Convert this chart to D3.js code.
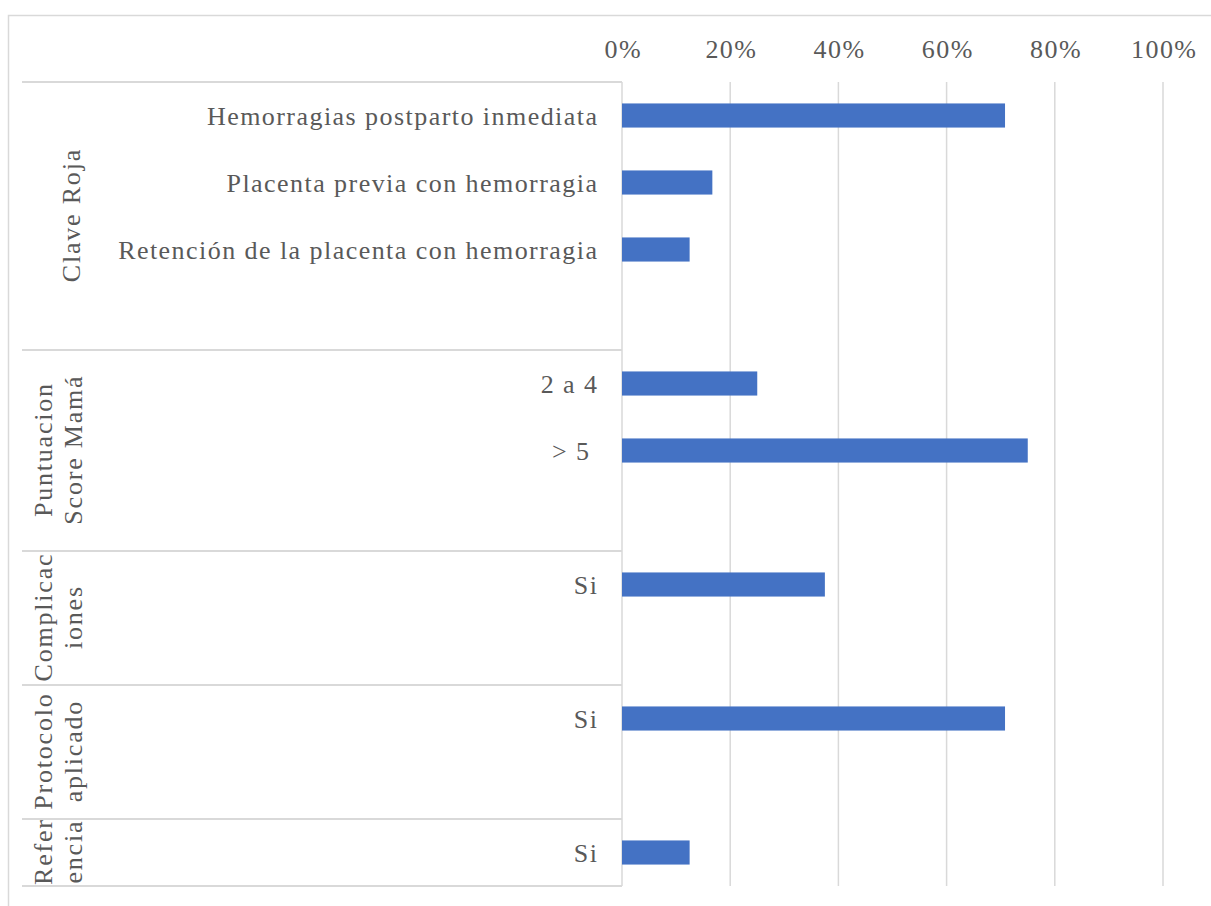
<!DOCTYPE html>
<html>
<head>
<meta charset="utf-8">
<script src="https://cdn.jsdelivr.net/npm/d3@7"></script>
<style>
  html, body { margin: 0; padding: 0; background: #ffffff; }
  svg { display: block; }
  text { font-family: "Liberation Serif", "Times New Roman", serif; fill: #595959; }
</style>
</head>
<body>
<svg id="chart" width="1211" height="906"></svg>
<script>
// ---- data ----
const categories = [
  "Hemorragias postparto inmediata",
  "Placenta previa con hemorragia",
  "Retención de la placenta con hemorragia",
  "",
  "2 a 4",
  "> 5 ",
  "",
  "Si",
  "",
  "Si",
  "",
  "Si"
];
const values = [0.708, 0.167, 0.125, null, 0.25, 0.75, null, 0.375, null, 0.708, null, 0.125];
const groupLabels = [
  ["Clave Roja"],
  ["Puntuacion", "Score Mamá"],
  ["Complicac", "iones"],
  ["Protocolo", "aplicado"],
  ["Refer", "encia"]
];
const groupSizes = [4, 3, 2, 2, 1];
const xTicks = [0, 0.2, 0.4, 0.6, 0.8, 1.0];

// ---- layout ----
const svg = d3.select("#chart");
const W = 1211, H = 906;
const plot = { left: 622, right: 1163, top: 82, bottom: 886 };
const tableLeft = 22;
const gridColor = "#d9d9d9";
const barColor = "#4472c4";
const fontSize = 26;
const ls = 1.45;

// chart frame
svg.append("rect")
  .attr("x", 8.5).attr("y", 15.5)
  .attr("width", W + 20).attr("height", H + 20)
  .attr("fill", "none").attr("stroke", gridColor).attr("stroke-width", 1.5);

const x = d3.scaleLinear().domain([0, 1]).range([plot.left, plot.right]);
const y = d3.scaleBand()
  .domain(d3.range(categories.length))
  .range([plot.top, plot.bottom])
  .paddingInner(0.64)
  .paddingOuter(0.32);

// vertical gridlines
svg.append("g").selectAll("line")
  .data(xTicks)
  .join("line")
  .attr("x1", d => x(d)).attr("x2", d => x(d))
  .attr("y1", plot.top).attr("y2", plot.bottom)
  .attr("stroke", gridColor).attr("stroke-width", 1.5);

// top axis labels
const xAxis = d3.axisTop(x)
  .tickValues(xTicks)
  .tickFormat(d3.format(".0%"))
  .tickSize(0)
  .tickPadding(24);
const ax = svg.append("g")
  .attr("transform", `translate(0,${plot.top})`)
  .call(xAxis);
ax.select(".domain").remove();
ax.selectAll("text")
  .attr("font-size", fontSize)
  .attr("dx", ls / 2)
  .style("letter-spacing", ls + "px")
  .style("font-family", '"Liberation Serif", "Times New Roman", serif')
  .attr("fill", "#595959");

// group separator lines (horizontal) in the category table
const step = y.step();
const boundaries = [0];
groupSizes.reduce((acc, s) => { boundaries.push(acc + s); return acc + s; }, 0);
const boundaryY = i => plot.top + i * step;

svg.append("g").selectAll("line")
  .data(boundaries)
  .join("line")
  .attr("x1", tableLeft).attr("x2", plot.left)
  .attr("y1", d => boundaryY(d)).attr("y2", d => boundaryY(d))
  .attr("stroke", gridColor).attr("stroke-width", 2);

// bars
svg.append("g").selectAll("rect")
  .data(values.map((v, i) => ({ v, i })).filter(d => d.v != null))
  .join("rect")
  .attr("x", x(0))
  .attr("y", d => y(d.i))
  .attr("width", d => x(d.v) - x(0))
  .attr("height", y.bandwidth())
  .attr("fill", barColor);

// category labels
svg.append("g").selectAll("text")
  .data(categories.map((c, i) => ({ c, i })))
  .join("text")
  .attr("x", plot.left - 25 + ls)
  .attr("y", d => y(d.i) + y.bandwidth() / 2)
  .attr("dy", "0.36em")
  .attr("text-anchor", "end")
  .attr("font-size", fontSize)
  .style("letter-spacing", ls + "px")
  .style("white-space", "pre")
  .text(d => d.c);

// group labels (rotated)
const gl = svg.append("g");
groupLabels.forEach((lines, gi) => {
  const y0 = boundaryY(boundaries[gi]);
  const y1 = boundaryY(boundaries[gi + 1]);
  const cy = (y0 + y1) / 2;
  const baselines = lines.length === 1 ? [80] : [52, 82];
  lines.forEach((line, li) => {
    gl.append("text")
      .attr("transform", `translate(${baselines[li]},${cy}) rotate(-90)`)
      .attr("text-anchor", "middle")
      .attr("dx", 0.9)
      .attr("font-size", fontSize)
      .style("letter-spacing", "1.8px")
      .text(line);
  });
});
</script>
</body>
</html>
